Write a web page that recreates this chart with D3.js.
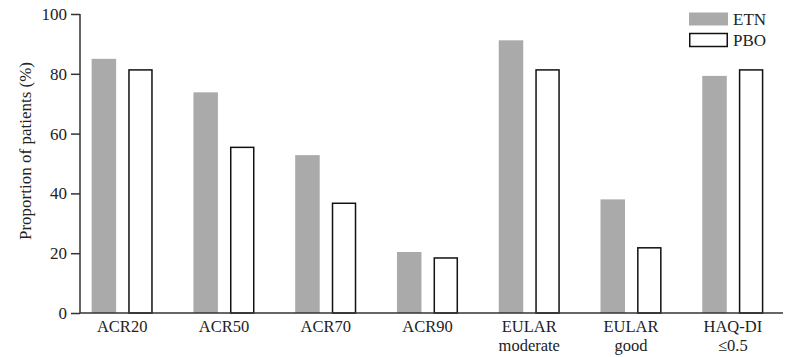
<!DOCTYPE html>
<html><head><meta charset="utf-8">
<script src="https://cdn.jsdelivr.net/npm/d3@7"></script>
<style>body{margin:0;background:#fff}svg{display:block}text{font-family:"Liberation Serif","DejaVu Serif",serif;fill:#222}</style>
</head><body><svg id="c" width="800" height="357"></svg>
<script>
const categories = [["ACR20"],["ACR50"],["ACR70"],["ACR90"],["EULAR","moderate"],["EULAR","good"],["HAQ-DI","≤0.5"]];
const series = ["ETN","PBO"];
const etn = [85, 73.8, 52.8, 20.4, 91.2, 38, 79.3];
const pbo = [81.3, 55.4, 36.7, 18.4, 81.3, 21.8, 81.3];
const yTicks = [0,20,40,60,80,100];

const svg = d3.select("#c");
const keys = categories.map(c=>c.join(" "));
const x = d3.scaleBand().domain(keys).range([71.3,783.7]).paddingInner(0.4).paddingOuter(0.2);
const xs = d3.scaleBand().domain(series).range([0,x.bandwidth()]).paddingInner(0.33).paddingOuter(0);
const y = d3.scaleLinear().domain([0,100]).range([313,14]);

const data = keys.map((k,i)=>({k, vals:[{s:"ETN",v:etn[i]},{s:"PBO",v:pbo[i]}]}));
const g = svg.append("g");
g.selectAll("g.grp").data(data).join("g").attr("class","grp")
 .attr("transform",d=>`translate(${x(d.k)},0)`)
 .selectAll("rect").data(d=>d.vals).join("rect")
 .attr("x",d=>xs(d.s)+(d.s==="PBO"?0.75:0))
 .attr("width",d=>xs.bandwidth()-(d.s==="PBO"?1.5:0))
 .attr("y",d=>y(d.v))
 .attr("height",d=>y(0)-y(d.v))
 .attr("fill",d=>d.s==="ETN"?"#aaaaaa":"#fff")
 .attr("stroke",d=>d.s==="ETN"?"none":"#111")
 .attr("stroke-width",1.5);

// y axis
const ya = svg.append("g").attr("transform","translate(80,0)")
 .call(d3.axisLeft(y).tickValues(yTicks).tickSize(9).tickPadding(4).tickFormat(d3.format("d")));
ya.select(".domain").attr("stroke","#333").attr("stroke-width",1.5).attr("d","M0,313V14");
ya.selectAll(".tick line").attr("stroke","#333").attr("stroke-width",1.5);
ya.selectAll(".tick text").attr("font-size",17).attr("fill","#222");

// x axis line
svg.append("line").attr("x1",80).attr("x2",783).attr("y1",313).attr("y2",313).attr("stroke","#333").attr("stroke-width",1.5);

// x labels
categories.forEach((c,i)=>{
  const cx = x(keys[i]) + x.bandwidth()/2;
  c.forEach((t,j)=>{
    svg.append("text").attr("x",cx).attr("y",332+j*19).attr("text-anchor","middle").attr("font-size",16.5).text(t);
  });
});

// y title
svg.append("text").attr("transform","translate(31,151) rotate(-90)").attr("text-anchor","middle").attr("font-size",17).text("Proportion of patients (%)");

// legend
const lg = svg.append("g");
series.forEach((s,i)=>{
  lg.append("rect").attr("x",s==="ETN"?689:689.75).attr("y",12.5+i*21).attr("width",s==="ETN"?39:37.5).attr("height",13)
   .attr("fill",s==="ETN"?"#aaaaaa":"#fff").attr("stroke",s==="ETN"?"none":"#111").attr("stroke-width",1.5);
  lg.append("text").attr("x",733).attr("y",25+i*21).attr("font-size",17).text(s);
});
</script></body></html>
